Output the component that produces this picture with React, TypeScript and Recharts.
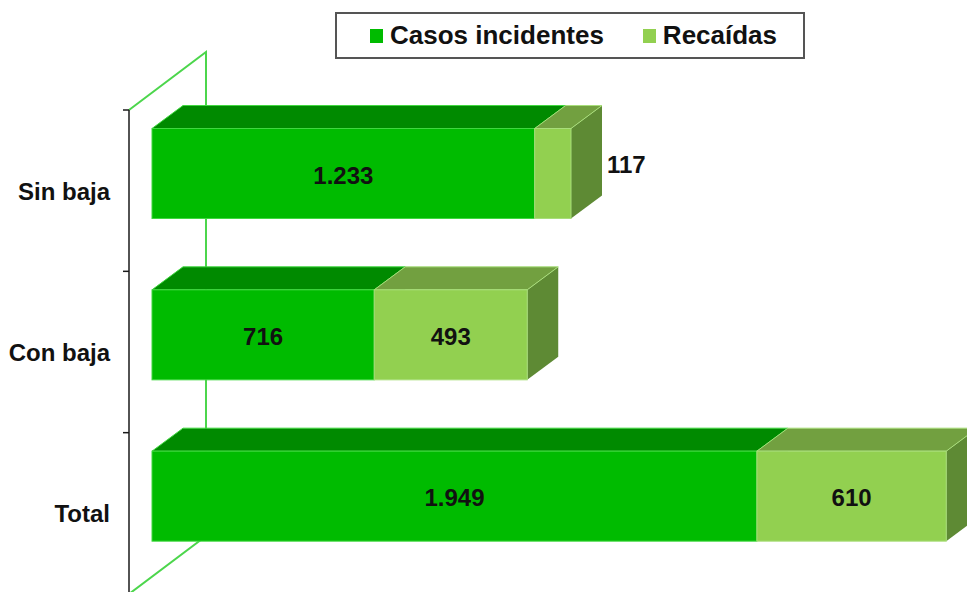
import React from 'react';
import { BarChart, Bar, XAxis, YAxis, Legend, LabelList } from 'recharts';

const categories = ['Sin baja', 'Con baja', 'Total'];
const incidentes = [1233, 716, 1949];
const recaidas = [117, 493, 610];
const seriesNames = ['Casos incidentes', 'Recaídas'];

const data = categories.map((name, i) => ({
  name,
  incidentes: incidentes[i],
  recaidas: recaidas[i],
}));

const W = 967;
const H = 600;
const TOP = 110;
const BOTTOM = 6;
const AXIS_W = 129;
const BAND = (H - TOP - BOTTOM) / categories.length;
// 3D projection: bars sit behind the axis plane, each box has its own depth
const OFF_X = 23;
const OFF_Y = -17.5;
const DEP_X = 31;
const DEP_Y = -23;
const WALL_X = 77;
const WALL_Y = -58;

const FONT = '"Liberation Sans", Arial, sans-serif';

const fmt = (n: number) => String(n).replace(/\B(?=(\d{3})+(?!\d))/g, '.');

const palette = {
  incidentes: { front: '#00BB00', top: '#008A00', side: '#007200', edge: '#40D840' },
  recaidas: { front: '#92D050', top: '#72A040', side: '#5E8A34', edge: '#A8DE7A' },
};

type BoxColors = { front: string; top: string; side: string; edge: string };

function Box3D(props: any, c: BoxColors) {
  const { x, y, width, height } = props;
  if (!width || width <= 0) return <g />;
  const x0 = x + OFF_X;
  const y0 = y + OFF_Y;
  const x1 = x0 + width;
  const y1 = y0 + height;
  const topPts = `${x0},${y0} ${x0 + DEP_X},${y0 + DEP_Y} ${x1 + DEP_X},${y0 + DEP_Y} ${x1},${y0}`;
  const sidePts = `${x1},${y0} ${x1 + DEP_X},${y0 + DEP_Y} ${x1 + DEP_X},${y1 + DEP_Y} ${x1},${y1}`;
  return (
    <g>
      <polygon points={sidePts} fill={c.side} />
      <polygon points={topPts} fill={c.top} stroke={c.edge} strokeWidth={1} />
      <rect x={x0} y={y0} width={width} height={height} fill={c.front} stroke={c.edge} strokeWidth={1} />
    </g>
  );
}

function BarLabel(props: any) {
  const { x, y, width, height, value } = props;
  const x0 = x + OFF_X;
  const cy = y + OFF_Y + height / 2;
  const common = { fontFamily: FONT, fontSize: 24, fontWeight: 700, fill: '#111' };
  if (width < 60) {
    return (
      <text x={x0 + width + DEP_X + 5} y={cy - 1} textAnchor="start" {...common}>
        {fmt(value)}
      </text>
    );
  }
  return (
    <text x={x0 + width / 2} y={cy + 10} textAnchor="middle" {...common}>
      {fmt(value)}
    </text>
  );
}

function CategoryTick(props: any) {
  const { x, y, payload } = props;
  const axisX = x + 8;
  const top = y - BAND / 2;
  return (
    <g>
      <line x1={axisX - 6} x2={axisX} y1={top} y2={top} stroke="#1a1a1a" strokeWidth={1.5} />
      <text
        x={x - 11}
        y={y + 9}
        textAnchor="end"
        fontFamily={FONT}
        fontSize={24}
        fontWeight={700}
        fill="#111"
      >
        {payload.value}
      </text>
    </g>
  );
}

function LegendBox(props: any) {
  const { payload } = props;
  return (
    <div
      style={{
        boxSizing: 'border-box',
        width: 470,
        height: 47,
        border: '2px solid #555',
        background: '#fff',
        display: 'flex',
        alignItems: 'center',
        paddingLeft: 33,
        fontFamily: FONT,
        fontSize: 26,
        fontWeight: 700,
        color: '#111',
        whiteSpace: 'nowrap',
      }}
    >
      {(payload || []).map((p: any, i: number) => (
        <div key={i} style={{ display: 'flex', alignItems: 'center', marginRight: 39, flexShrink: 0 }}>
          <span style={{ display: 'inline-block', width: 13, height: 14, background: p.color, marginRight: 7 }} />
          <span>{p.value}</span>
        </div>
      ))}
    </div>
  );
}

export default function App() {
  const left = AXIS_W;
  const top = TOP;
  const bottom = H - BOTTOM;
  return (
    <div style={{ position: 'absolute', left: 0, top: 0, width: W, height: 592, overflow: 'hidden', background: '#fff' }}>
      <svg width={W} height={H} style={{ position: 'absolute', left: 0, top: 0 }}>
        <polyline
          points={`${left},${top} ${left + WALL_X},${top + WALL_Y} ${left + WALL_X},${bottom + WALL_Y} ${left},${bottom}`}
          fill="none"
          stroke="#4CD64C"
          strokeWidth={2}
        />
      </svg>
      <div style={{ position: 'absolute', left: 0, top: 0 }}>
        <BarChart
          width={W}
          height={H}
          data={data}
          layout="vertical"
          margin={{ top: TOP, right: 0, bottom: BOTTOM, left: 0 }}
        >
          <XAxis type="number" hide domain={[0, 2700]} />
          <YAxis
            type="category"
            dataKey="name"
            width={AXIS_W}
            axisLine={{ stroke: '#1a1a1a', strokeWidth: 1.5 }}
            tickLine={false}
            tick={<CategoryTick />}
            interval={0}
          />
          <Legend
            layout="vertical"
            align="center"
            verticalAlign="middle"
            wrapperStyle={{ top: 12, left: 335, width: 470, height: 47 }}
            content={<LegendBox />}
          />
          <Bar
            dataKey="incidentes"
            name={seriesNames[0]}
            stackId="a"
            fill={palette.incidentes.front}
            barSize={90}
            isAnimationActive={false}
            shape={(p: any) => Box3D(p, palette.incidentes)}
          >
            <LabelList dataKey="incidentes" content={<BarLabel />} />
          </Bar>
          <Bar
            dataKey="recaidas"
            name={seriesNames[1]}
            stackId="a"
            fill={palette.recaidas.front}
            barSize={90}
            isAnimationActive={false}
            shape={(p: any) => Box3D(p, palette.recaidas)}
          >
            <LabelList dataKey="recaidas" content={<BarLabel />} />
          </Bar>
        </BarChart>
      </div>
    </div>
  );
}
